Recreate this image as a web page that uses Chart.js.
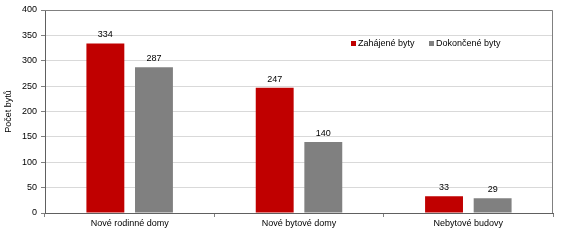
<!DOCTYPE html>
<html>
<head>
<meta charset="utf-8">
<script src="https://cdn.jsdelivr.net/npm/chart.js@4"></script>
<style>
  html, body { margin: 0; padding: 0; background: #fff; }
  #wrap { width: 567px; height: 246px; }
</style>
</head>
<body>
<div id="wrap"><canvas id="myChart" width="567" height="246"></canvas></div>
<script>
var categories = ['Nové rodinné domy', 'Nové bytové domy', 'Nebytové budovy'];
var zahajene = [334, 247, 33];
var dokoncene = [287, 140, 29];
var seriesNames = ['Zahájené byty', 'Dokončené byty'];
var yTicks = [0, 50, 100, 150, 200, 250, 300, 350, 400];

var FONT = 'Liberation Sans, Arial, sans-serif';

// values above bars, legend inside plot, top/right frame
var extras = {
  id: 'extras',
  afterDatasetsDraw: function(chart) {
    var ctx = chart.ctx;
    var a = chart.chartArea;
    ctx.save();
    ctx.strokeStyle = '#808080';
    ctx.lineWidth = 1;
    ctx.beginPath();
    ctx.moveTo(a.left, a.top + 0.5);
    ctx.lineTo(a.right - 0.5, a.top + 0.5);
    ctx.lineTo(a.right - 0.5, a.bottom);
    ctx.stroke();

    ctx.font = '9px ' + FONT;
    ctx.fillStyle = '#000';
    ctx.textAlign = 'center';
    ctx.textBaseline = 'bottom';
    chart.data.datasets.forEach(function(ds, i) {
      chart.getDatasetMeta(i).data.forEach(function(bar, j) {
        ctx.fillText(ds.data[j], bar.x, bar.y - 4);
      });
    });

    // legend
    var lx = [351, 429];
    ctx.textAlign = 'left';
    ctx.textBaseline = 'middle';
    chart.data.datasets.forEach(function(ds, i) {
      ctx.fillStyle = ds.backgroundColor;
      ctx.fillRect(lx[i], 41, 5, 5);
      ctx.fillStyle = '#000';
      ctx.fillText(ds.label, lx[i] + 7, 43.5);
    });
    ctx.restore();
  }
};

var ctx = document.getElementById('myChart').getContext('2d');
var chart = new Chart(ctx, {
  type: 'bar',
  data: {
    labels: categories,
    datasets: [{
      label: seriesNames[0],
      backgroundColor: '#C00000',
      data: zahajene
    }, {
      label: seriesNames[1],
      backgroundColor: '#808080',
      data: dokoncene
    }]
  },
  options: {
    responsive: false,
    animation: false,
    datasets: { bar: { categoryPercentage: 0.574, barPercentage: 0.78 } },
    layout: { padding: { left: 0, right: 14, top: 10, bottom: 0 } },
    plugins: { legend: { display: false }, tooltip: { enabled: false } },
    scales: {
      x: {
        grid: { offset: true, drawOnChartArea: false, tickLength: 4, tickColor: '#808080' },
        border: { color: '#606060' },
        ticks: { font: { family: FONT, size: 9 }, color: '#000', padding: 1, maxRotation: 0 },
        afterFit: function(s) { s.height = 33; }
      },
      y: {
        min: 0, max: 400,
        afterBuildTicks: function(s) { s.ticks = yTicks.map(function(v) { return { value: v }; }); },
        grid: { color: '#d9d9d9', tickLength: 4, tickColor: '#808080' },
        border: { color: '#606060' },
        ticks: { font: { family: FONT, size: 9 }, color: '#000', padding: 4 },
        title: { display: true, text: 'Počet bytů', font: { family: FONT, size: 9 }, color: '#000', padding: { top: 3, bottom: 0 } },
        afterFit: function(s) { s.width = 45; }
      }
    }
  },
  plugins: [extras]
});
</script>
</body>
</html>
